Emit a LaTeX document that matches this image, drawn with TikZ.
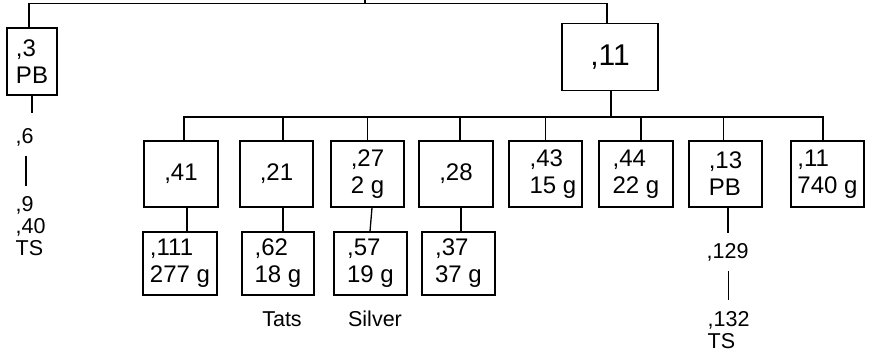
\documentclass[tikz,border=0pt]{standalone}
\usepackage{fontspec}
\setmainfont{Liberation Sans}
\begin{document}
\begin{tikzpicture}[x=1pt,y=-1pt,line width=1.3pt,
  box/.style={draw,inner sep=0pt,align=left,font=\fontsize{24}{27}\selectfont,minimum width=74pt,minimum height=66pt},
  low/.style={box,minimum height=63pt},
  lab/.style={inner sep=0pt,align=left,font=\fontsize{21.5}{22}\selectfont}]
\useasboundingbox (0,0) rectangle (870,360);
% upper boxes
\node[box,minimum width=50pt,minimum height=67pt] (b3) at (32,61.5) {,3\\PB};
\node[box,minimum width=96pt,minimum height=67pt,font=\fontsize{30}{34}\selectfont] (b11) at (610,57) {,11};
% second row
\node[box] (c41) at (181,174) {,41};
\node[box,minimum width=73pt] (c21) at (276.5,174) {,21};
\node[box,minimum width=73pt] (c27) at (367.5,174) {,27\\2 g};
\node[box] (c28) at (456,174) {,28};
\node[box,minimum width=73pt] (c43) at (545.5,174) {\hspace*{15pt},43\\\hspace*{15pt}15 g};
\node[box] (c44) at (636,174) {,44\\22 g};
\node[box,minimum width=73pt] (c13) at (725.5,174) {,13\\PB};
\node[box,minimum width=73pt] (c11b) at (827.5,174) {,11\\740 g};
% third row
\node[low] (d111) at (180,263.5) {,111\\277 g};
\node[low,minimum width=72pt] (d62) at (278,263.5) {,62\\18 g};
\node[low,minimum width=73pt] (d57) at (370.5,263.5) {,57\\19 g};
\node[low,minimum width=73pt] (d37) at (458.5,263.5) {,37\\37 g};
% labels
\node[lab,anchor=north west] (t6) at (15,127.8) {,6};
\node[lab,anchor=north west] (t9) at (15,196.2) {,9\\,40\\TS};
\node[lab,anchor=north west] (t129) at (706,242.8) {,129};
\node[lab,anchor=north west] (t132) at (707,311.2) {,132\\TS};
\node[lab,anchor=base] (tats) at (282,326) {Tats};
\node[lab,anchor=base] (silver) at (375,326.7) {Silver};
% coordinates
\coordinate (rin) at (365,0);
\coordinate (rtop) at (365,3.5);
\coordinate (bus) at (611,117);
% connectors
\draw (rin) -- (rtop);
\draw ([xshift=-3pt]b3.north) |- (rtop) -| ([xshift=-3pt]b11.north);
\draw ([xshift=1pt]b11.south) -- (bus);
\foreach \n/\s in {c41/3,c21/6.5,c27/0,c28/4,c43/0,c44/5,c13/-2,c11b/-4.5}
  \draw (bus) -| ([xshift=\s pt]\n.north);
\draw ([xshift=6pt]c41.south) -- ([xshift=7pt]d111.north);
\draw ([xshift=6.5pt]c21.south) -- ([xshift=5pt]d62.north);
\draw ([xshift=4.5pt]c27.south) -- ([xshift=-0.5pt]d57.north);
\draw ([xshift=5pt]c28.south) -- ([xshift=2.5pt]d37.north);
\draw[shorten >=14.8pt] (b3.south) -- (b3.south |- t6.north);
\draw[shorten <=9pt,shorten >=10pt] ([xshift=1.5pt]t6.south) -- ([xshift=1.5pt]t6.south |- t9.north);
\draw[shorten >=9.8pt] ([xshift=2.5pt]c13.south) -- ([xshift=2.5pt]c13.south |- t129.north);
\draw[shorten <=9pt,shorten >=11pt] ([xshift=1pt]t129.south) -- ([xshift=1pt]t129.south |- t132.north);
\end{tikzpicture}
\end{document}
